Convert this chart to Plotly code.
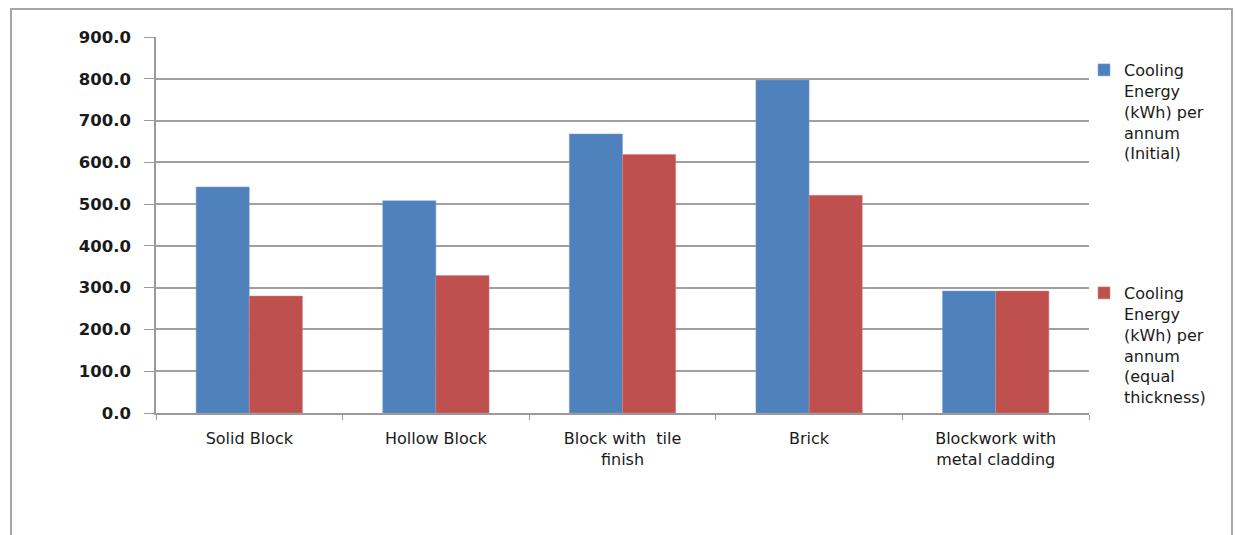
import plotly.graph_objects as go

categories = ["Solid Block", "Hollow Block", "Block with  tile<br>finish", "Brick",
              "Blockwork with<br>metal cladding"]
initial = [541, 508, 668, 797, 292]
equal_thickness = [280, 329, 619, 521, 292]
series_names = ["Cooling<br>Energy<br>(kWh) per<br>annum<br>(Initial)",
                "Cooling<br>Energy<br>(kWh) per<br>annum<br>(equal<br>thickness)"]
tick_vals = [0, 100, 200, 300, 400, 500, 600, 700, 800, 900]
tick_text = ["0.0", "100.0", "200.0", "300.0", "400.0", "500.0", "600.0", "700.0", "800.0", "900.0"]

W, H = 1235, 535
L, R, T, B = 156, 146, 37, 122
pw = W - L - R
ph = H - T - B

fig = go.Figure()
fig.add_trace(go.Bar(x=categories, y=initial, name=series_names[0],
                     marker=dict(color="#4f81bd", line=dict(color="#7fa3d1", width=0.5)),
                     legendgroup="a"))
fig.add_trace(go.Bar(x=categories, y=equal_thickness, name=series_names[1],
                     marker=dict(color="#c0504d", line=dict(color="#d48583", width=0.5)),
                     legendgroup="b"))

def px_x(p):
    return (p - L) / pw

def px_y(p):
    return (H - B - p) / ph

fig.update_layout(
    width=W, height=H,
    margin=dict(l=L, r=R, t=T, b=B, autoexpand=False),
    paper_bgcolor="white", plot_bgcolor="white",
    barmode="group", bargap=0.43, bargroupgap=0,
    font=dict(family="DejaVu Sans", size=16, color="#1a1a1a"),
    xaxis=dict(type="category", tickson="boundaries", ticks="outside", ticklen=5,
               tickcolor="#9a9a9a", showline=True, linecolor="#9a9a9a", linewidth=1.5,
               showgrid=False, ticklabelstandoff=10,
               tickfont=dict(family="DejaVu Sans", size=16, color="#1a1a1a")),
    yaxis=dict(range=[0, 900], tickvals=tick_vals, ticktext=tick_text, ticks="outside",
               ticklen=10, tickcolor="#9a9a9a", showline=True, linecolor="#9a9a9a",
               linewidth=1.5, showgrid=True, gridcolor="#a0a0a0", gridwidth=1.5,
               zeroline=False, ticklabelstandoff=10,
               tickfont=dict(family="DejaVu Sans", size=16.5, color="#1a1a1a", weight="bold")),
    legend=dict(x=px_x(1084), xanchor="left", y=px_y(53), yanchor="top",
                valign="top", tracegroupgap=116, itemwidth=30,
                font=dict(family="DejaVu Sans", size=16, color="#1a1a1a"),
                bgcolor="rgba(0,0,0,0)"),
    showlegend=True,
    shapes=[dict(type="rect", xref="paper", yref="paper",
                 x0=px_x(11), x1=px_x(1232), y0=px_y(560), y1=px_y(9),
                 line=dict(color="#a6a6a6", width=2), fillcolor="rgba(0,0,0,0)", layer="below")],
)

fig.write_html("out.html", config={"displayModeBar": False},
               post_script="document.body.style.margin='0';")
